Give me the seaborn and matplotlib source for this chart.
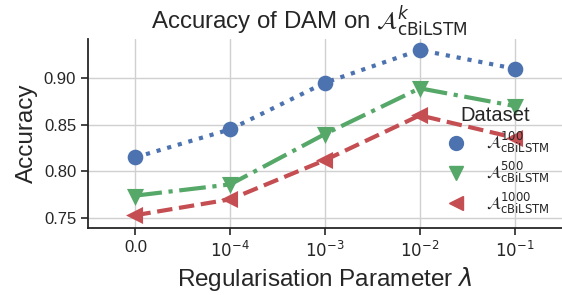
import pandas as pd
import matplotlib
matplotlib.use("Agg")
import matplotlib.pyplot as plt
from matplotlib.lines import Line2D
import seaborn as sns

# Datos
regularisation = ["0.0", "1e-4", "1e-3", "1e-2", "1e-1"]
tick_labels = ["0.0", r"$10^{-4}$", r"$10^{-3}$", r"$10^{-2}$", r"$10^{-1}$"]
datasets = [r"$\mathcal{A}^{100}_{\mathrm{cBiLSTM}}$",
            r"$\mathcal{A}^{500}_{\mathrm{cBiLSTM}}$",
            r"$\mathcal{A}^{1000}_{\mathrm{cBiLSTM}}$"]
acc_100 = [0.815, 0.845, 0.895, 0.930, 0.910]
acc_500 = [0.774, 0.786, 0.840, 0.889, 0.870]
acc_1000 = [0.753, 0.770, 0.812, 0.860, 0.836]

colores = ["#4C72B0", "#55A868", "#C44E52"]
marcadores = ["o", "v", "<"]
estilos = [":", "-.", "--"]

sns.set_theme(style="whitegrid")
sns.set_style("ticks", {"axes.grid": True})
plt.rcParams["font.family"] = ["Liberation Sans", "DejaVu Sans"]
plt.rcParams["mathtext.fontset"] = "dejavusans"

filas = []
for nombre, valores in zip(datasets, [acc_100, acc_500, acc_1000]):
    for reg, v in zip(regularisation, valores):
        filas.append({"Regularisation": reg, "Accuracy": v, "Dataset": nombre})
df = pd.DataFrame(filas)

fig = plt.figure(figsize=(5.62, 2.95), dpi=100)
ax = fig.add_axes([88 / 562, 1 - 228 / 295, 1 - 88 / 562, (228 - 39) / 295])

sns.pointplot(data=df, x="Regularisation", y="Accuracy", hue="Dataset",
              order=regularisation, hue_order=datasets, palette=colores,
              markers=marcadores, linestyles=estilos, ax=ax,
              markersize=9, linewidth=3, legend=False)

ax.set_xlim(-0.5, 4.5)
ax.set_ylim(0.7393, 0.9418)
ax.set_yticks([0.75, 0.80, 0.85, 0.90])
ax.set_xticks(range(len(tick_labels)))
ax.set_xticklabels(tick_labels)
ax.tick_params(labelsize=12, length=5, width=1.2)
ax.grid(True, color="#d0d0d0", linewidth=1)
for s in ["left", "bottom"]:
    ax.spines[s].set_linewidth(1.3)
    ax.spines[s].set_color("#262626")
sns.despine(ax=ax)

ax.set_xlabel(r"Regularisation Parameter $\lambda$", fontsize=17.5)
ax.set_ylabel("Accuracy", fontsize=17.5)
ax.set_title(r"Accuracy of DAM on $\mathcal{A}^{k}_{\mathrm{cBiLSTM}}$",
             fontsize=17.3, x=0.468)

manejadores = [Line2D([], [], color=c, marker=m, linestyle="none", markersize=10)
               for c, m in zip(colores, marcadores)]
leg = ax.legend(manejadores, datasets, title="Dataset", frameon=False,
                fontsize=12, title_fontsize=14.5, loc="center left",
                bbox_to_anchor=(0.71, 0.355), handletextpad=0.8, labelspacing=0.3)

fig.savefig("out.png", dpi=100)
